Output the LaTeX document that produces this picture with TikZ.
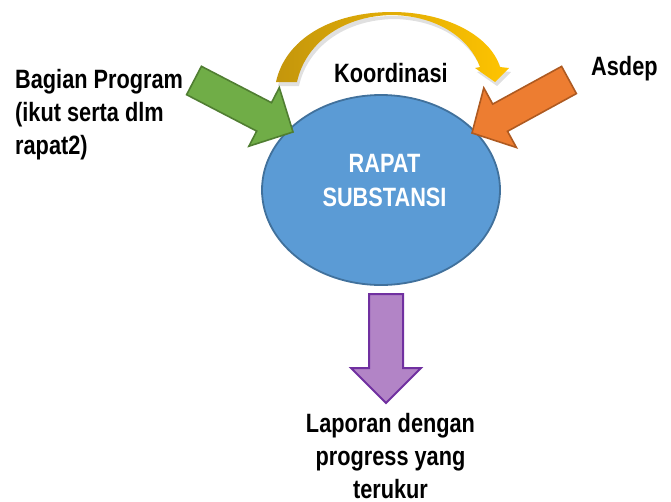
\documentclass[tikz,border=0pt]{standalone}
\usepackage{fontspec}
\usetikzlibrary{shapes.geometric}
\newfontfamily\narrowfont{Liberation Sans}[FakeStretch=0.82]
\begin{document}
\begin{tikzpicture}[x=1pt,y=-1pt,
  lbl/.style={font=\narrowfont\bfseries\fontsize{26.5}{33}\selectfont, inner sep=0pt, text=black},
  blockarrow/.style={line width=1.6pt, line join=miter}]
\definecolor{gfill}{HTML}{70AD47}\definecolor{gline}{HTML}{507E32}
\definecolor{ofill}{HTML}{ED7D31}\definecolor{oline}{HTML}{AE5A21}
\definecolor{bfill}{HTML}{5B9BD5}\definecolor{bline}{HTML}{41719C}
\definecolor{pfill}{RGB}{178,132,198}\definecolor{pline}{HTML}{7030A0}
\definecolor{golddark}{RGB}{196,150,12}\definecolor{goldlight}{RGB}{255,196,0}
\useasboundingbox (0,0) rectangle (671,501);

% central ellipse
\node[ellipse, draw=bline, fill=bfill, line width=1.8pt, minimum width=238pt, minimum height=190pt, inner sep=0pt] (rapat) at (381,190) {};
\node[lbl, text=white, align=center, anchor=north, font=\narrowfont\bfseries\fontsize{26.5}{34}\selectfont] (rapattext) at (384.5,154) {RAPAT\\SUBSTANSI};

% curved arrow shadow
\fill[black, opacity=0.12, shift={(2,4)}]
  (276,82) .. controls (285,40) and (330,12) .. (392,12)
  .. controls (445,12) and (490,35) .. (500,67)
  -- (509,68) -- (495,82) -- (475,68) -- (480,67)
  .. controls (470,40) and (440,16) .. (392,15)
  .. controls (340,16) and (305,45) .. (297,82) -- cycle;
% curved arrow
\shade[left color=golddark, right color=goldlight]
  (276,82) .. controls (285,40) and (330,12) .. (392,12)
  .. controls (445,12) and (490,35) .. (500,67)
  -- (509,68) -- (495,82) -- (475,68) -- (480,67)
  .. controls (470,40) and (440,16) .. (392,15)
  .. controls (340,16) and (305,45) .. (297,82) -- cycle;

% green arrow
\draw[blockarrow, draw=gline, fill=gfill]
  (201.4,66.3) -- (271.5,102.7) -- (279.3,87.6) -- (293,132) -- (248.9,146.2) -- (256.7,131.1) -- (186.6,94.7) -- cycle;
% orange arrow
\draw[blockarrow, draw=oline, fill=ofill]
  (561.6,66.4) -- (492.7,104.1) -- (483.8,87.9) -- (472,133) -- (516.4,147.5) -- (507.5,131.3) -- (576.4,93.6) -- cycle;
% purple arrow
\draw[blockarrow, line width=2pt, draw=pline, fill=pfill]
  (369,294) -- (403,294) -- (403,368) -- (421,368) -- (386,403) -- (351,368) -- (369,368) -- cycle;

% labels
\node[lbl, anchor=north west, align=left] (bagian) at (15,69) {Bagian Program\\(ikut serta dlm\\rapat2)};
\node[lbl, anchor=base west] (koord) at (334,82) {Koordinasi};
\node[lbl, anchor=base west] (asdep) at (591,75) {Asdep};
\node[lbl, anchor=north, align=center] (laporan) at (390.5,413) {Laporan dengan\\progress yang\\terukur};
\end{tikzpicture}
\end{document}
